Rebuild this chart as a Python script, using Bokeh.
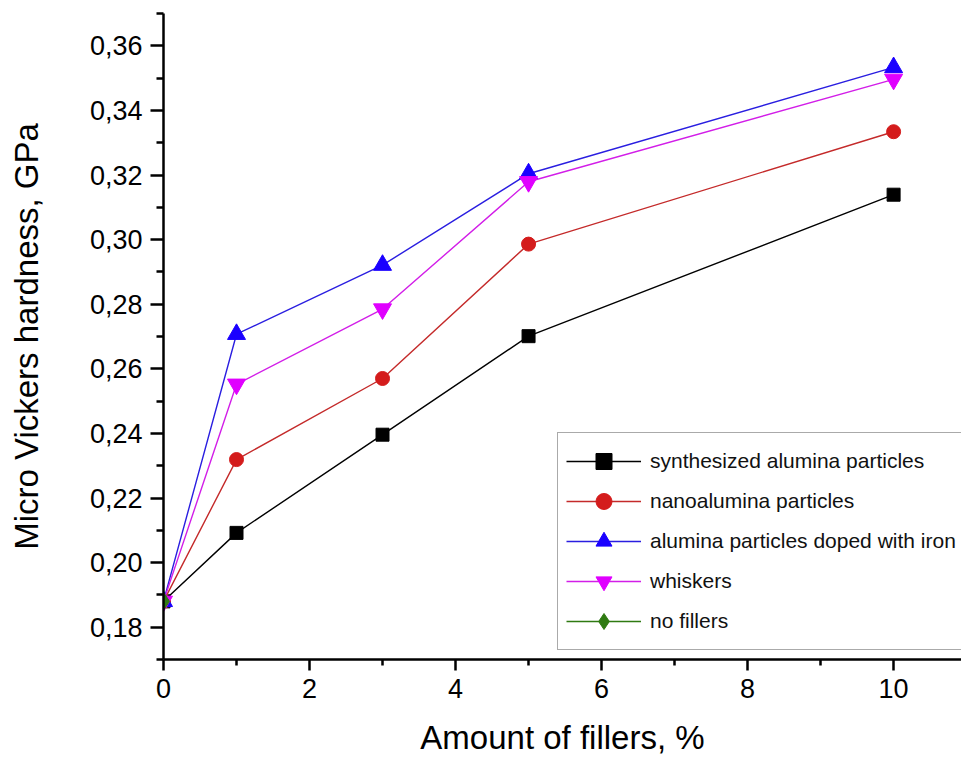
from bokeh.plotting import figure
from bokeh.models import Range1d, FixedTicker, Legend, LegendItem
from bokeh.embed import file_html
from bokeh.resources import INLINE

# Filler content (%) and micro Vickers hardness (GPa) for each filler type
filler_pct = [0, 1, 3, 5, 10]
synthesized = [0.188, 0.2092, 0.2396, 0.2701, 0.3139]
nanoalumina = [0.188, 0.2319, 0.2570, 0.2986, 0.3334]
iron_doped = [0.188, 0.2707, 0.2921, 0.3204, 0.3533]
whiskers = [0.188, 0.2552, 0.2785, 0.3179, 0.3496]
no_fillers_pct = [0]
no_fillers = [0.188]

x_ticks = [0, 2, 4, 6, 8, 10]
x_minor = [1, 3, 5, 7, 9]
y_ticks = [0.18, 0.20, 0.22, 0.24, 0.26, 0.28, 0.30, 0.32, 0.34, 0.36]
y_tick_labels = ["0,18", "0,20", "0,22", "0,24", "0,26", "0,28", "0,30", "0,32", "0,34", "0,36"]
y_minor = [0.17, 0.19, 0.21, 0.23, 0.25, 0.27, 0.29, 0.31, 0.33, 0.35, 0.37]

FONT = "Liberation Sans"

p = figure(
    width=961, height=758,
    x_range=Range1d(0, 10.93), y_range=Range1d(0.17, 0.37),
    output_backend="svg", toolbar_location=None,
    min_border_left=163, min_border_right=0, min_border_top=13, min_border_bottom=99,
)
p.outline_line_color = None
p.xgrid.visible = False
p.ygrid.visible = False
p.background_fill_color = "white"
p.border_fill_color = "white"

# Axes: thick black lines with outward ticks, comma decimal labels
for ax in (p.xaxis[0], p.yaxis[0]):
    ax.axis_line_width = 2.5
    ax.major_tick_line_width = 2.5
    ax.minor_tick_line_width = 2.5
    ax.major_tick_in = 0
    ax.minor_tick_in = 0
    ax.major_label_text_font = FONT
    ax.major_label_text_font_size = "27px"
    ax.major_label_text_color = "black"
    ax.axis_label_text_font = FONT
    ax.axis_label_text_font_size = "33px"
    ax.axis_label_text_font_style = "normal"
    ax.axis_label_text_color = "black"

p.xaxis.ticker = FixedTicker(ticks=x_ticks, minor_ticks=x_minor)
p.xaxis.major_tick_out = 11
p.xaxis.minor_tick_out = 6
p.xaxis.major_label_standoff = 8
p.xaxis.axis_label = "Amount of fillers, %"
p.xaxis.axis_label_standoff = 18

p.yaxis.ticker = FixedTicker(ticks=y_ticks, minor_ticks=y_minor)
p.yaxis.major_label_overrides = {t: lab for t, lab in zip(y_ticks, y_tick_labels)}
p.yaxis.major_tick_out = 13
p.yaxis.minor_tick_out = 7
p.yaxis.major_label_standoff = 8
p.yaxis.axis_label = "Micro Vickers hardness, GPa"
p.yaxis.axis_label_standoff = 42

series = [
    ("synthesized alumina particles", filler_pct, synthesized, "#000000", "#000000", "square", 13),
    ("nanoalumina particles", filler_pct, nanoalumina, "#c42a2a", "#d41c1c", "circle", 14),
    ("alumina particles doped with iron", filler_pct, iron_doped, "#2a1ee0", "#1a00ff", "triangle", 18),
    ("whiskers", filler_pct, whiskers, "#d21ee8", "#e000ff", "inverted_triangle", 18),
    ("no fillers", no_fillers_pct, no_fillers, "#2f7a12", "#2f7a12", "diamond", 18),
]

items = []
for label, xs, ys, line_col, fill_col, marker, size in series:
    lr = p.line(xs, ys, line_color=line_col, line_width=1.4)
    sr = p.scatter(xs, ys, marker=marker, size=size, fill_color=fill_col,
                   line_color=fill_col, line_width=1)
    items.append(LegendItem(label=label, renderers=[lr, sr]))

legend = Legend(
    items=items,
    location=(394, 9),
    glyph_width=75, glyph_height=40, label_height=40,
    spacing=0, padding=8, margin=0, label_standoff=9,
    label_text_font=FONT, label_text_font_size="21px", label_text_color="#111111",
    border_line_color="#555555", border_line_width=1,
    background_fill_color="white", background_fill_alpha=1.0,
)
p.add_layout(legend, "center")

open("out.html", "w").write(file_html(p, INLINE))
